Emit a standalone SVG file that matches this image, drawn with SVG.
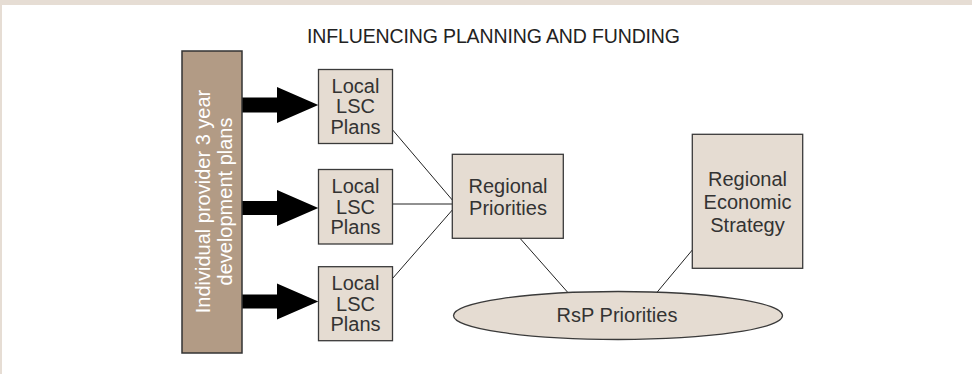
<svg xmlns="http://www.w3.org/2000/svg" width="972" height="374" viewBox="0 0 972 374">
<style>
.box{fill:#e5dcd2;stroke:#3a3a3a;stroke-width:1.3}
.tall{fill:#b29b85;stroke:#333;stroke-width:1.5}
.t{font-family:"Liberation Sans",Arial,sans-serif;font-size:20px;fill:#333;text-anchor:middle}
.w{fill:#fff}
.ln{stroke:#222;stroke-width:1;fill:none}
.arr{fill:#000}
</style>
<rect x="0" y="0" width="972" height="374" fill="#e6ddd4"/>
<rect x="2" y="5" width="970" height="369" fill="#fff"/>
<text x="493.5" y="42.5" class="t" style="fill:#222;font-size:19.5px" textLength="373">INFLUENCING PLANNING AND FUNDING</text>
<g id="connectors">
<line class="ln" x1="392.7" y1="130" x2="452.3" y2="200"/>
<line class="ln" x1="392.7" y1="204" x2="452.3" y2="204"/>
<line class="ln" x1="392.7" y1="278.3" x2="452.3" y2="210"/>
<line class="ln" x1="520" y1="238.3" x2="568.3" y2="293"/>
<line class="ln" x1="692.3" y1="250" x2="656.7" y2="292.7"/>
<polygon class="arr" points="242,97.5 277,97.5 277,87 318.3,105 277,123 277,112.5 242,112.5"/>
<polygon class="arr" points="242,201 277,201 277,190 318.3,208 277,226 277,215 242,215"/>
<polygon class="arr" points="242,294.5 277,294.5 277,283.5 318.3,301.5 277,319.5 277,308.5 242,308.5"/>
</g>
<g id="provider">
<rect class="tall" x="182" y="51" width="60" height="302"/>
<text class="t w" transform="translate(209.5,201.5) rotate(-90)">Individual provider 3 year</text>
<text class="t w" transform="translate(232,201.5) rotate(-90)">development plans</text>
</g>
<g id="lsc1">
<rect class="box" x="318.5" y="69.5" width="74" height="74"/>
<text class="t" x="355.5" y="92.7">Local</text>
<text class="t" x="355.5" y="113.3">LSC</text>
<text class="t" x="355.5" y="134">Plans</text>
</g>
<g id="lsc2">
<rect class="box" x="318.5" y="169.5" width="74" height="74.5"/>
<text class="t" x="355.5" y="193">Local</text>
<text class="t" x="355.5" y="213.6">LSC</text>
<text class="t" x="355.5" y="234.3">Plans</text>
</g>
<g id="lsc3">
<rect class="box" x="318.5" y="266.7" width="74" height="74"/>
<text class="t" x="355.5" y="290">Local</text>
<text class="t" x="355.5" y="310.6">LSC</text>
<text class="t" x="355.5" y="331.3">Plans</text>
</g>
<g id="regional-priorities">
<rect class="box" x="452.3" y="154.3" width="111" height="84"/>
<text class="t" x="508" y="193.3">Regional</text>
<text class="t" x="508" y="215">Priorities</text>
</g>
<g id="res">
<rect class="box" x="692.3" y="134.3" width="110.4" height="134"/>
<text class="t" x="747.5" y="186">Regional</text>
<text class="t" x="747.5" y="209">Economic</text>
<text class="t" x="747.5" y="232">Strategy</text>
</g>
<g id="rsp">
<ellipse class="box" cx="618" cy="315.5" rx="164.5" ry="24"/>
<text class="t" x="617" y="322">RsP Priorities</text>
</g>
</svg>
